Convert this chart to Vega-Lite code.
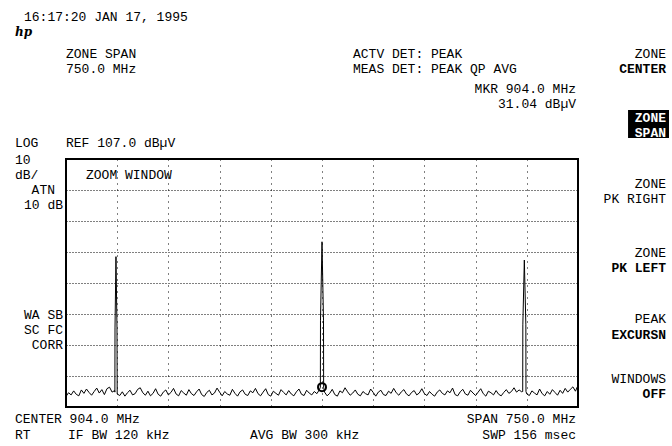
{
  "$schema": "https://vega.github.io/schema/vega-lite/v6.json",
  "width": 512,
  "height": 248,
  "autosize": {"type": "none"},
  "padding": {"left": 66, "top": 159, "right": 94, "bottom": 39},
  "background": "white",
  "config": {
    "view": {"stroke": "black", "strokeWidth": 2},
    "axis": {"gridColor": "black", "gridOpacity": 1, "gridWidth": 1},
    "text": {"font": "Liberation Mono", "fontSize": 13, "baseline": "alphabetic", "lineHeight": 15, "color": "black"}
  },
  "datasets": {
    "trace": [
      {"freq": 529, "level": 30.4}, {"freq": 532.75, "level": 31.6}, {"freq": 536.5, "level": 30.9}, {"freq": 540.25, "level": 32.2},
      {"freq": 544, "level": 31.1}, {"freq": 547.75, "level": 30.6}, {"freq": 551.5, "level": 32.5}, {"freq": 555.25, "level": 31.4},
      {"freq": 559, "level": 32.8}, {"freq": 562.75, "level": 31.7}, {"freq": 566.5, "level": 30.8}, {"freq": 570.25, "level": 32.0},
      {"freq": 574, "level": 33.1}, {"freq": 577.75, "level": 31.5}, {"freq": 581.5, "level": 32.6}, {"freq": 585.25, "level": 31.0},
      {"freq": 589, "level": 32.9}, {"freq": 592.75, "level": 33.4}, {"freq": 596.5, "level": 31.8}, {"freq": 600.25, "level": 32.3},
      {"freq": 600.6, "level": 31.8}, {"freq": 600.8, "level": 52.5}, {"freq": 602.2, "level": 75.5}, {"freq": 603.7, "level": 52.5},
      {"freq": 604, "level": 31.2}, {"freq": 607.75, "level": 30.7}, {"freq": 611.5, "level": 31.9}, {"freq": 615.25, "level": 30.5},
      {"freq": 619, "level": 31.6}, {"freq": 622.75, "level": 32.4}, {"freq": 626.5, "level": 30.9}, {"freq": 630.25, "level": 31.3},
      {"freq": 634, "level": 32.7}, {"freq": 637.75, "level": 33.2}, {"freq": 641.5, "level": 31.6}, {"freq": 645.25, "level": 30.8},
      {"freq": 649, "level": 32.1}, {"freq": 652.75, "level": 30.6}, {"freq": 656.5, "level": 31.4}, {"freq": 660.25, "level": 32.9},
      {"freq": 664, "level": 31.1}, {"freq": 667.75, "level": 30.5}, {"freq": 671.5, "level": 31.8}, {"freq": 675.25, "level": 32.5},
      {"freq": 679, "level": 30.9}, {"freq": 682.75, "level": 31.7}, {"freq": 686.5, "level": 33.0}, {"freq": 690.25, "level": 31.2},
      {"freq": 694, "level": 30.6}, {"freq": 697.75, "level": 32.3}, {"freq": 701.5, "level": 31.5}, {"freq": 705.25, "level": 30.8},
      {"freq": 709, "level": 32.6}, {"freq": 712.75, "level": 31.3}, {"freq": 716.5, "level": 30.7}, {"freq": 720.25, "level": 31.9},
      {"freq": 724, "level": 32.8}, {"freq": 727.75, "level": 31.0}, {"freq": 731.5, "level": 30.4}, {"freq": 735.25, "level": 31.7},
      {"freq": 739, "level": 32.4}, {"freq": 742.75, "level": 30.9}, {"freq": 746.5, "level": 31.5}, {"freq": 750.25, "level": 33.1},
      {"freq": 754, "level": 31.8}, {"freq": 757.75, "level": 30.6}, {"freq": 761.5, "level": 32.0}, {"freq": 765.25, "level": 31.2},
      {"freq": 769, "level": 30.8}, {"freq": 772.75, "level": 32.7}, {"freq": 776.5, "level": 31.4}, {"freq": 780.25, "level": 30.5},
      {"freq": 784, "level": 31.9}, {"freq": 787.75, "level": 32.5}, {"freq": 791.5, "level": 31.1}, {"freq": 795.25, "level": 30.7},
      {"freq": 799, "level": 32.2}, {"freq": 802.75, "level": 31.6}, {"freq": 806.5, "level": 33.0}, {"freq": 810.25, "level": 31.3},
      {"freq": 814, "level": 30.6}, {"freq": 817.75, "level": 31.8}, {"freq": 821.5, "level": 32.9}, {"freq": 825.25, "level": 31.0},
      {"freq": 829, "level": 30.5}, {"freq": 832.75, "level": 32.1}, {"freq": 836.5, "level": 31.4}, {"freq": 840.25, "level": 30.8},
      {"freq": 844, "level": 32.6}, {"freq": 847.75, "level": 31.7}, {"freq": 851.5, "level": 30.9}, {"freq": 855.25, "level": 32.3},
      {"freq": 859, "level": 31.2}, {"freq": 862.75, "level": 30.6}, {"freq": 866.5, "level": 31.9}, {"freq": 870.25, "level": 32.8},
      {"freq": 874, "level": 31.1}, {"freq": 877.75, "level": 30.7}, {"freq": 881.5, "level": 32.4}, {"freq": 885.25, "level": 31.5},
      {"freq": 889, "level": 30.9}, {"freq": 892.75, "level": 32.0}, {"freq": 896.5, "level": 31.3}, {"freq": 900.25, "level": 32.6},
      {"freq": 901.6, "level": 33.4}, {"freq": 901.8, "level": 55.0}, {"freq": 904, "level": 80.3}, {"freq": 906.2, "level": 55.0},
      {"freq": 906.4, "level": 33.4}, {"freq": 907.75, "level": 31.8}, {"freq": 911.5, "level": 30.6}, {"freq": 915.25, "level": 31.4},
      {"freq": 919, "level": 32.7}, {"freq": 922.75, "level": 31.0}, {"freq": 926.5, "level": 30.5}, {"freq": 930.25, "level": 32.2},
      {"freq": 934, "level": 31.6}, {"freq": 937.75, "level": 33.2}, {"freq": 941.5, "level": 31.9}, {"freq": 945.25, "level": 30.8},
      {"freq": 949, "level": 31.5}, {"freq": 952.75, "level": 32.5}, {"freq": 956.5, "level": 31.1}, {"freq": 960.25, "level": 30.6},
      {"freq": 964, "level": 32.0}, {"freq": 967.75, "level": 31.3}, {"freq": 971.5, "level": 30.9}, {"freq": 975.25, "level": 32.8},
      {"freq": 979, "level": 31.7}, {"freq": 982.75, "level": 30.5}, {"freq": 986.5, "level": 31.8}, {"freq": 990.25, "level": 32.4},
      {"freq": 994, "level": 31.0}, {"freq": 997.75, "level": 30.7}, {"freq": 1001.5, "level": 32.1}, {"freq": 1005.25, "level": 31.4},
      {"freq": 1009, "level": 33.0}, {"freq": 1012.75, "level": 31.6}, {"freq": 1016.5, "level": 30.8}, {"freq": 1020.25, "level": 31.9},
      {"freq": 1024, "level": 32.6}, {"freq": 1027.75, "level": 31.2}, {"freq": 1031.5, "level": 30.6}, {"freq": 1035.25, "level": 31.7},
      {"freq": 1039, "level": 32.3}, {"freq": 1042.75, "level": 30.9}, {"freq": 1046.5, "level": 31.5}, {"freq": 1050.25, "level": 32.9},
      {"freq": 1054, "level": 31.3}, {"freq": 1057.75, "level": 30.7}, {"freq": 1061.5, "level": 32.0}, {"freq": 1065.25, "level": 31.1},
      {"freq": 1069, "level": 30.5}, {"freq": 1072.75, "level": 31.8}, {"freq": 1076.5, "level": 32.5}, {"freq": 1080.25, "level": 31.4},
      {"freq": 1084, "level": 30.9}, {"freq": 1087.75, "level": 32.2}, {"freq": 1091.5, "level": 31.6}, {"freq": 1095.25, "level": 33.1},
      {"freq": 1099, "level": 31.0}, {"freq": 1102.75, "level": 30.6}, {"freq": 1106.5, "level": 31.9}, {"freq": 1110.25, "level": 32.7},
      {"freq": 1114, "level": 31.2}, {"freq": 1117.75, "level": 30.8}, {"freq": 1121.5, "level": 32.4}, {"freq": 1125.25, "level": 31.5},
      {"freq": 1129, "level": 30.7}, {"freq": 1132.75, "level": 31.8}, {"freq": 1136.5, "level": 32.9}, {"freq": 1140.25, "level": 31.3},
      {"freq": 1144, "level": 30.5}, {"freq": 1147.75, "level": 32.1}, {"freq": 1151.5, "level": 31.6}, {"freq": 1155.25, "level": 30.9},
      {"freq": 1159, "level": 32.3}, {"freq": 1162.75, "level": 31.1}, {"freq": 1166.5, "level": 30.6}, {"freq": 1170.25, "level": 31.7},
      {"freq": 1174, "level": 32.6}, {"freq": 1177.75, "level": 31.4}, {"freq": 1181.5, "level": 32.0}, {"freq": 1185.25, "level": 33.2},
      {"freq": 1189, "level": 31.8}, {"freq": 1192.75, "level": 32.5}, {"freq": 1196.5, "level": 31.9}, {"freq": 1198.0, "level": 32.0},
      {"freq": 1198.2, "level": 53.5}, {"freq": 1200.4, "level": 74.4}, {"freq": 1202.6, "level": 53.5}, {"freq": 1202.8, "level": 32.0},
      {"freq": 1204, "level": 31.2}, {"freq": 1207.75, "level": 30.7}, {"freq": 1211.5, "level": 32.2}, {"freq": 1215.25, "level": 31.5},
      {"freq": 1219, "level": 30.9}, {"freq": 1222.75, "level": 32.8}, {"freq": 1226.5, "level": 31.3}, {"freq": 1230.25, "level": 30.6},
      {"freq": 1234, "level": 32.0}, {"freq": 1237.75, "level": 31.1}, {"freq": 1241.5, "level": 32.6}, {"freq": 1245.25, "level": 31.7},
      {"freq": 1249, "level": 30.8}, {"freq": 1252.75, "level": 32.4}, {"freq": 1256.5, "level": 31.4}, {"freq": 1260.25, "level": 33.0},
      {"freq": 1264, "level": 31.8}, {"freq": 1267.75, "level": 32.7}, {"freq": 1271.5, "level": 33.5}, {"freq": 1275.25, "level": 32.1},
      {"freq": 1279, "level": 34.0}
    ]
  },
  "layer": [
    {
      "data": {"name": "trace"},
      "mark": {"type": "line", "color": "black", "strokeWidth": 1, "clip": true},
      "encoding": {
        "x": {"field": "freq", "type": "quantitative",
          "scale": {"domain": [529, 1279], "nice": false, "zero": false},
          "axis": {"values": [604, 679, 754, 829, 904, 979, 1054, 1129, 1204], "grid": true, "gridDash": [1, 5], "labels": false, "ticks": false, "domain": false, "title": null}},
        "y": {"field": "level", "type": "quantitative",
          "scale": {"domain": [27, 107], "nice": false, "zero": false},
          "axis": {"values": [37, 47, 57, 67, 77, 87, 97], "grid": true, "gridDash": [1, 2], "labels": false, "ticks": false, "domain": false, "title": null}}
      }
    },
    {
      "data": {"values": [{"freq": 904, "level": 33.4}]},
      "mark": {"type": "point", "shape": "circle", "filled": false, "stroke": "black", "strokeWidth": 2, "size": 64, "opacity": 1},
      "encoding": {"x": {"field": "freq", "type": "quantitative"}, "y": {"field": "level", "type": "quantitative"}}
    },
    {
      "data": {"values": [{}]},
      "mark": {"type": "rect", "color": "black"},
      "encoding": {"x": {"datum": 1352.3, "type": "quantitative"}, "x2": {"datum": 1412.3}, "y": {"datum": 122.8, "type": "quantitative"}, "y2": {"datum": 113.8}}
    },
    {"data": {"values": [{}]}, "mark": {"type": "text", "align": "left", "text": "16:17:20 JAN 17, 1995"},
      "encoding": {"x": {"datum": 467.48, "type": "quantitative"}, "y": {"datum": 151.52, "type": "quantitative"}}},
    {"data": {"values": [{}]}, "mark": {"type": "text", "align": "left", "text": "hp", "fontStyle": "italic", "fontWeight": "bold", "fontSize": 12, "font": "DejaVu Serif"},
      "encoding": {"x": {"datum": 454.29, "type": "quantitative"}, "y": {"datum": 146.68, "type": "quantitative"}}},
    {"data": {"values": [{}]}, "mark": {"type": "text", "align": "left", "text": ["ZONE SPAN", "750.0 MHz"]},
      "encoding": {"x": {"datum": 529, "type": "quantitative"}, "y": {"datum": 139.58, "type": "quantitative"}}},
    {"data": {"values": [{}]}, "mark": {"type": "text", "align": "left", "text": ["ACTV DET: PEAK", "MEAS DET: PEAK QP AVG"]},
      "encoding": {"x": {"datum": 949.41, "type": "quantitative"}, "y": {"datum": 139.58, "type": "quantitative"}}},
    {"data": {"values": [{}]}, "mark": {"type": "text", "align": "right", "text": ["MKR 904.0 MHz", "31.04 dBµV"]},
      "encoding": {"x": {"datum": 1276.07, "type": "quantitative"}, "y": {"datum": 128.29, "type": "quantitative"}}},
    {"data": {"values": [{}]}, "mark": {"type": "text", "align": "right", "text": "ZONE"},
      "encoding": {"x": {"datum": 1407.91, "type": "quantitative"}, "y": {"datum": 139.58, "type": "quantitative"}}},
    {"data": {"values": [{}]}, "mark": {"type": "text", "align": "right", "text": "CENTER", "fontWeight": "bold"},
      "encoding": {"x": {"datum": 1407.91, "type": "quantitative"}, "y": {"datum": 134.74, "type": "quantitative"}}},
    {"data": {"values": [{}]}, "mark": {"type": "text", "align": "right", "text": ["ZONE", "SPAN"], "color": "white", "fontWeight": "bold"},
      "encoding": {"x": {"datum": 1407.91, "type": "quantitative"}, "y": {"datum": 118.94, "type": "quantitative"}}},
    {"data": {"values": [{}]}, "mark": {"type": "text", "align": "right", "text": ["ZONE", "PK RIGHT"]},
      "encoding": {"x": {"datum": 1407.91, "type": "quantitative"}, "y": {"datum": 97.65, "type": "quantitative"}}},
    {"data": {"values": [{}]}, "mark": {"type": "text", "align": "right", "text": "ZONE"},
      "encoding": {"x": {"datum": 1407.91, "type": "quantitative"}, "y": {"datum": 75.39, "type": "quantitative"}}},
    {"data": {"values": [{}]}, "mark": {"type": "text", "align": "right", "text": "PK LEFT", "fontWeight": "bold"},
      "encoding": {"x": {"datum": 1407.91, "type": "quantitative"}, "y": {"datum": 70.55, "type": "quantitative"}}},
    {"data": {"values": [{}]}, "mark": {"type": "text", "align": "right", "text": "PEAK"},
      "encoding": {"x": {"datum": 1407.91, "type": "quantitative"}, "y": {"datum": 54.10, "type": "quantitative"}}},
    {"data": {"values": [{}]}, "mark": {"type": "text", "align": "right", "text": "EXCURSN", "fontWeight": "bold"},
      "encoding": {"x": {"datum": 1407.91, "type": "quantitative"}, "y": {"datum": 48.94, "type": "quantitative"}}},
    {"data": {"values": [{}]}, "mark": {"type": "text", "align": "right", "text": "WINDOWS"},
      "encoding": {"x": {"datum": 1407.91, "type": "quantitative"}, "y": {"datum": 34.74, "type": "quantitative"}}},
    {"data": {"values": [{}]}, "mark": {"type": "text", "align": "right", "text": "OFF", "fontWeight": "bold"},
      "encoding": {"x": {"datum": 1407.91, "type": "quantitative"}, "y": {"datum": 29.90, "type": "quantitative"}}},
    {"data": {"values": [{}]}, "mark": {"type": "text", "align": "left", "text": "LOG"},
      "encoding": {"x": {"datum": 454.29, "type": "quantitative"}, "y": {"datum": 110.87, "type": "quantitative"}}},
    {"data": {"values": [{}]}, "mark": {"type": "text", "align": "left", "text": "REF 107.0 dBµV"},
      "encoding": {"x": {"datum": 529, "type": "quantitative"}, "y": {"datum": 110.87, "type": "quantitative"}}},
    {"data": {"values": [{}]}, "mark": {"type": "text", "align": "left", "text": ["10", "dB/"]},
      "encoding": {"x": {"datum": 454.29, "type": "quantitative"}, "y": {"datum": 105.39, "type": "quantitative"}}},
    {"data": {"values": [{}]}, "mark": {"type": "text", "align": "right", "text": "ATN"},
      "encoding": {"x": {"datum": 512.89, "type": "quantitative"}, "y": {"datum": 95.71, "type": "quantitative"}}},
    {"data": {"values": [{}]}, "mark": {"type": "text", "align": "right", "text": "10 dB"},
      "encoding": {"x": {"datum": 524.61, "type": "quantitative"}, "y": {"datum": 90.87, "type": "quantitative"}}},
    {"data": {"values": [{}]}, "mark": {"type": "text", "align": "left", "text": "ZOOM WINDOW"},
      "encoding": {"x": {"datum": 558.3, "type": "quantitative"}, "y": {"datum": 100.55, "type": "quantitative"}}},
    {"data": {"values": [{}]}, "mark": {"type": "text", "align": "right", "text": ["WA SB", "SC FC", "CORR"]},
      "encoding": {"x": {"datum": 524.61, "type": "quantitative"}, "y": {"datum": 55.39, "type": "quantitative"}}},
    {"data": {"values": [{}]}, "mark": {"type": "text", "align": "left", "text": "CENTER 904.0 MHz"},
      "encoding": {"x": {"datum": 454.29, "type": "quantitative"}, "y": {"datum": 21.84, "type": "quantitative"}}},
    {"data": {"values": [{}]}, "mark": {"type": "text", "align": "right", "text": "SPAN 750.0 MHz"},
      "encoding": {"x": {"datum": 1276.07, "type": "quantitative"}, "y": {"datum": 21.84, "type": "quantitative"}}},
    {"data": {"values": [{}]}, "mark": {"type": "text", "align": "left", "text": "RT"},
      "encoding": {"x": {"datum": 454.29, "type": "quantitative"}, "y": {"datum": 16.68, "type": "quantitative"}}},
    {"data": {"values": [{}]}, "mark": {"type": "text", "align": "left", "text": "IF BW 120 kHz"},
      "encoding": {"x": {"datum": 532.0, "type": "quantitative"}, "y": {"datum": 16.68, "type": "quantitative"}}},
    {"data": {"values": [{}]}, "mark": {"type": "text", "align": "left", "text": "AVG BW 300 kHz"},
      "encoding": {"x": {"datum": 798.53, "type": "quantitative"}, "y": {"datum": 16.68, "type": "quantitative"}}},
    {"data": {"values": [{}]}, "mark": {"type": "text", "align": "right", "text": "SWP 156 msec"},
      "encoding": {"x": {"datum": 1276.07, "type": "quantitative"}, "y": {"datum": 16.68, "type": "quantitative"}}}
  ]
}
